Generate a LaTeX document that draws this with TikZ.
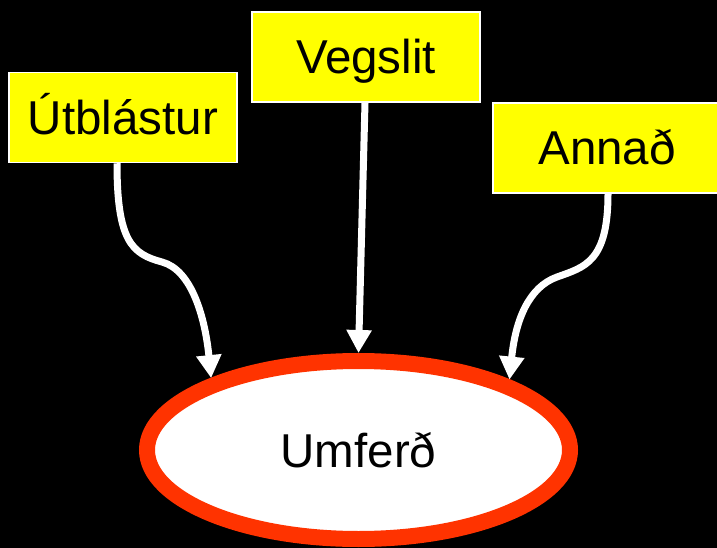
\documentclass[tikz,border=0pt]{standalone}
\usepackage{fontspec}
\setmainfont{Liberation Sans}
\usepackage{tikz}
\usetikzlibrary{shapes,arrows}
\usetikzlibrary{arrows.meta,calc}
\definecolor{boxyellow}{RGB}{255,255,0}
\definecolor{ringred}{RGB}{255,51,0}
\tikzset{
    block/.style = {draw=white, line width=1.5pt, fill=boxyellow, rectangle, minimum width=228pt, minimum height=90pt, inner sep=0pt, text height=34pt, text depth=0pt, font=\fontsize{47.5}{56}\selectfont},
    roundblock/.style = {draw=ringred, line width=16pt, fill=white, ellipse, minimum width=423pt, minimum height=178pt, inner sep=0pt, text height=34pt, text depth=0pt, font=\fontsize{47.5}{56}\selectfont},
    arrow/.style = {draw=white, line width=7pt, -{Triangle[width=24pt,length=23pt]}},
}
\begin{document}
\begin{tikzpicture}[x=1pt, y=-1pt]
    \useasboundingbox (0,0) rectangle (717,548);
    \fill [black] (0,0) rectangle (717,548);
    \node [block] (utb) at (123,117.5) {Útblástur};
    \node [block] (veg) at (366,57) {Vegslit};
    \node [block, minimum width=228pt] (ann) at (607,148) {Annað};
    \node [roundblock] (umf) at (358.5,450) {Umferð};
    \coordinate (utbbend) at (162,262);
    \coordinate (annbend) at (557,277);
    \draw [arrow] ([xshift=-6pt]utb.south) .. controls +(0,78) and +(-30,-8) .. (utbbend)
        .. controls +(30,8) and +(-6,-60) .. (umf.154.4);
    \draw [arrow] ([xshift=-1pt]veg.south) -- (umf.north);
    \draw [arrow] ([xshift=1pt]ann.south) .. controls +(0,68) and +(28,-10) .. (annbend)
        .. controls +(-28,10) and +(6,-60) .. (umf.25.6);
\end{tikzpicture}
\end{document}
